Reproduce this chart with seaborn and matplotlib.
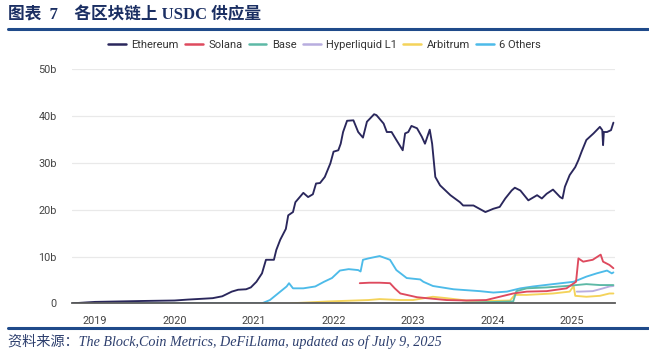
import matplotlib
matplotlib.use("Agg")
import matplotlib.pyplot as plt
import seaborn as sns
import pandas as pd
from matplotlib.lines import Line2D

# USDC supply per chain, (year, billions)
ethereum = [(2018.72, 0.0), (2018.9, 0.2), (2019.0, 0.3), (2019.3, 0.4), (2019.6, 0.5), (2020.0, 0.6),
            (2020.17, 0.8), (2020.38, 1.0), (2020.48, 1.1), (2020.6, 1.5), (2020.72, 2.5), (2020.8, 2.9),
            (2020.9, 3.0), (2020.96, 3.4), (2021.03, 4.6), (2021.1, 6.4), (2021.15, 9.3), (2021.25, 9.3),
            (2021.28, 11.4), (2021.33, 13.6), (2021.40, 15.9), (2021.43, 18.8), (2021.49, 19.5), (2021.52, 21.6),
            (2021.62, 23.6), (2021.68, 22.7), (2021.74, 23.3), (2021.78, 25.6), (2021.83, 25.7), (2021.89, 27.0),
            (2021.96, 29.9), (2022.0, 32.4), (2022.06, 32.7), (2022.09, 34.1), (2022.12, 36.6), (2022.17, 39.0),
            (2022.25, 39.1), (2022.31, 36.6), (2022.37, 35.4), (2022.42, 38.8), (2022.46, 39.5), (2022.51, 40.4),
            (2022.54, 40.2), (2022.63, 38.4), (2022.67, 36.6), (2022.73, 36.6), (2022.79, 34.9), (2022.87, 32.7),
            (2022.90, 36.3), (2022.94, 36.6), (2022.98, 37.9), (2023.05, 37.4), (2023.11, 35.6), (2023.15, 34.1),
            (2023.21, 37.1), (2023.24, 34.1), (2023.28, 27.0), (2023.34, 25.2), (2023.47, 23.1), (2023.59, 21.6),
            (2023.63, 20.9), (2023.76, 20.9), (2023.91, 19.5), (2024.01, 20.2), (2024.09, 20.6), (2024.16, 22.4),
            (2024.24, 24.1), (2024.28, 24.7), (2024.35, 24.1), (2024.45, 22.0), (2024.56, 23.1), (2024.62, 22.4),
            (2024.68, 23.4), (2024.76, 24.3), (2024.85, 22.7), (2024.88, 22.4), (2024.91, 24.9), (2024.97, 27.4),
            (2025.04, 29.1), (2025.08, 30.6), (2025.12, 32.4), (2025.18, 34.9), (2025.27, 36.3), (2025.35, 37.7),
            (2025.38, 37.0), (2025.39, 33.8), (2025.40, 36.6), (2025.44, 36.6), (2025.49, 37.0), (2025.52, 38.6)]
solana = [(2022.33, 4.3), (2022.45, 4.4), (2022.58, 4.4), (2022.71, 4.3), (2022.77, 3.2), (2022.84, 2.1),
          (2022.92, 1.8), (2023.05, 1.3), (2023.17, 1.1), (2023.42, 0.7), (2023.67, 0.6), (2023.92, 0.7),
          (2024.09, 1.4), (2024.26, 2.1), (2024.43, 2.5), (2024.68, 2.6), (2024.93, 3.2), (2025.05, 4.6),
          (2025.08, 9.6), (2025.14, 8.9), (2025.26, 9.3), (2025.36, 10.4), (2025.39, 8.9), (2025.47, 8.2),
          (2025.52, 7.5)]
base = [(2023.62, 0.1), (2024.26, 0.4), (2024.30, 2.6), (2024.43, 3.2), (2024.68, 3.4), (2024.93, 3.7),
        (2025.18, 4.1), (2025.35, 3.9), (2025.52, 3.9)]
hyperliquid = [(2025.06, 2.5), (2025.10, 2.5), (2025.26, 2.6), (2025.39, 3.2), (2025.47, 3.6), (2025.52, 3.7)]
arbitrum = [(2021.46, 0.0), (2021.93, 0.4), (2022.44, 0.7), (2022.58, 0.9), (2022.84, 0.7), (2023.0, 0.7),
            (2023.25, 1.4), (2023.42, 1.1), (2023.67, 0.6), (2023.96, 0.5), (2024.22, 0.6), (2024.28, 1.8),
            (2024.43, 1.8), (2024.76, 2.1), (2024.97, 2.5), (2025.02, 3.7), (2025.04, 1.6), (2025.18, 1.4),
            (2025.35, 1.6), (2025.47, 2.1), (2025.52, 2.1)]
others = [(2018.72, 0.0), (2021.1, 0.0), (2021.2, 0.7), (2021.41, 3.6), (2021.44, 4.3), (2021.49, 3.2),
          (2021.62, 3.2), (2021.77, 3.6), (2021.88, 4.6), (2021.98, 5.4), (2022.08, 7.0), (2022.19, 7.3),
          (2022.31, 7.1), (2022.34, 6.8), (2022.37, 9.3), (2022.44, 9.6), (2022.58, 10.1), (2022.71, 9.3),
          (2022.79, 7.1), (2022.92, 5.4), (2023.09, 5.1), (2023.13, 4.6), (2023.25, 3.7), (2023.51, 3.0),
          (2023.84, 2.6), (2024.01, 2.3), (2024.18, 2.5), (2024.35, 3.2), (2024.51, 3.6), (2024.76, 4.1),
          (2025.02, 4.6), (2025.18, 5.7), (2025.31, 6.4), (2025.44, 7.0), (2025.50, 6.4), (2025.52, 6.6)]

chains = ["Ethereum", "Solana", "Base", "Hyperliquid L1", "Arbitrum", "6 Others"]
series = [ethereum, solana, base, hyperliquid, arbitrum, others]
colors = ["#2a275c", "#de4a5e", "#5db9a6", "#b8addf", "#f4d35a", "#4dbbe9"]
year_ticks = [2019, 2020, 2021, 2022, 2023, 2024, 2025]
value_ticks = [0, 10, 20, 30, 40, 50]
value_labels = ["0", "10b", "20b", "30b", "40b", "50b"]

rows = []
for name, pts in zip(chains, series):
    for yr, val in pts:
        rows.append({"year": yr, "supply": val, "chain": name})
df = pd.DataFrame(rows)

sns.set_theme(style="white")
plt.rcParams["font.family"] = ["Roboto", "DejaVu Sans"]

fig = plt.figure(figsize=(6.49, 3.55), dpi=100)
ax = fig.add_axes([0.1109, 0.1456, 0.8367, 0.6592])

# draw others first so ethereum sits on top
draw_order = ["6 Others", "Arbitrum", "Hyperliquid L1", "Base", "Solana", "Ethereum"]
pal = dict(zip(chains, colors))
for name in draw_order:
    sub = df[df["chain"] == name]
    sns.lineplot(data=sub, x="year", y="supply", color=pal[name], linewidth=1.35,
                 estimator=None, ax=ax)

ax.set_xlim(2018.71, 2025.54)
ax.set_ylim(0, 50)
ax.set_xticks(year_ticks)
ax.set_xticklabels([str(y) for y in year_ticks])
ax.set_yticks(value_ticks)
ax.set_yticklabels(value_labels)
ax.set_xlabel("")
ax.set_ylabel("")
ax.tick_params(axis="both", length=0, labelsize=7.8, labelcolor="#444444")
ax.tick_params(axis="x", pad=9)
ax.tick_params(axis="y", pad=11)
ax.grid(axis="y", color="#e9e9e9", linewidth=0.9)
ax.grid(axis="x", visible=False)
for side in ["top", "right", "left"]:
    ax.spines[side].set_visible(False)
ax.spines["bottom"].set_color("#5a5a5a")
ax.spines["bottom"].set_linewidth(1.3)

handles = [Line2D([0], [0], color=c, linewidth=1.8) for c in colors]
fig.legend(handles, chains, loc="center", bbox_to_anchor=(0.5, 0.873), ncol=6, frameon=False,
           fontsize=8, handlelength=1.6, handletextpad=0.5, columnspacing=0.55, labelcolor="#333333")

# title, rules and source note
fig.text(0.013, 0.958, "图表  7    各区块链上 USDC 供应量", fontsize=12, fontweight="bold",
         color="#1b2f63", family=["Liberation Serif", "Noto Sans CJK SC"], va="center")
fig.add_artist(Line2D([0.013, 0.998], [0.918, 0.918], color="#1f4a8a", linewidth=2.2))
fig.add_artist(Line2D([0.013, 0.998], [0.077, 0.077], color="#1f4a8a", linewidth=2.2))
fig.text(0.013, 0.037, "资料来源：The Block,Coin Metrics, DeFiLlama, updated as of July 9, 2025",
         fontsize=10.2, style="italic", color="#2d3f6e",
         family=["Liberation Serif", "Noto Sans CJK SC"], va="center")

fig.savefig("out.png", dpi=100)
plt.close(fig)
